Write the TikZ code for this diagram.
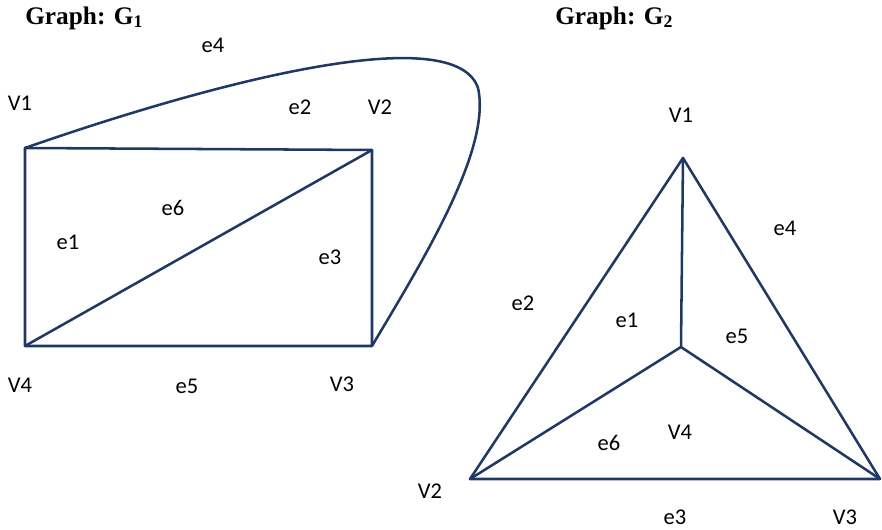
\documentclass[tikz,border=0pt]{standalone}
\usepackage{fontspec}
\setmainfont{Carlito}
\newfontfamily\titlefont{Liberation Serif}
\usetikzlibrary{positioning}
\definecolor{grnavy}{RGB}{31,56,100}
\tikzset{
  %% ---- lines ----
  edge/.style   = {draw=grnavy, line width=1.8pt, line join=round, line cap=round},
  %% ---- texts ----
  lbl/.style    = {font=\fontsize{16}{18}\selectfont, inner sep=0pt},
  gtitle/.style = {font=\titlefont\bfseries\fontsize{18}{20}\selectfont,
                   inner sep=0pt, anchor=west},
}

\begin{document}
\begin{tikzpicture}[x=0.025cm, y=-0.025cm]
\useasboundingbox (0,0) rectangle (882,530);

%% ---- graph G1 ----
\node[gtitle] (t1) at (25,18) {Graph: G\textsubscript{1}};
\coordinate (a1) at (25,148);
\coordinate (a2) at (372,150);
\coordinate (a3) at (372,346);
\coordinate (a4) at (25,346);
\coordinate (atop) at (478,88);
\draw[edge] (a1) -- (a2) -- (a3) -- (a4) -- cycle;
\draw[edge] (a4) -- (a2);
\draw[edge] (a1) .. controls (220,80) and (455,20) .. (atop)
                 .. controls (492,150) and (420,265) .. (a3);
\node[lbl] (a1l) at (20,103)  {V1};
\node[lbl] (a2l) at (380,107) {V2};
\node[lbl] (a3l) at (342,384) {V3};
\node[lbl] (a4l) at (20,385)  {V4};
\node[lbl] (ae1) at (68,242)  {e1};
\node[lbl] (ae2) at (300,107) {e2};
\node[lbl] (ae3) at (330,257) {e3};
\node[lbl] (ae4) at (213,45)  {e4};
\node[lbl] (ae5) at (187,386) {e5};
\node[lbl] (ae6) at (173,208) {e6};

%% ---- graph G2 ----
\node[gtitle] (t2) at (555,18) {Graph: G\textsubscript{2}};
\coordinate (b1) at (683,158);
\coordinate (b2) at (470,479);
\coordinate (b3) at (880,479);
\coordinate (b4) at (681,347);
\draw[edge] (b1) -- (b2) -- (b3) -- cycle;
\draw[edge] (b1) -- (b4);
\draw[edge] (b2) -- (b4) -- (b3);
\node[lbl] (b1l) at (681,115) {V1};
\node[lbl] (b2l) at (430,491) {V2};
\node[lbl] (b3l) at (845,517) {V3};
\node[lbl] (b4l) at (680,432) {V4};
\node[lbl] (be1) at (627,320) {e1};
\node[lbl] (be2) at (523,303) {e2};
\node[lbl] (be3) at (675,517) {e3};
\node[lbl] (be4) at (785,228) {e4};
\node[lbl] (be5) at (737,336) {e5};
\node[lbl] (be6) at (609,443) {e6};
\end{tikzpicture}
\end{document}
